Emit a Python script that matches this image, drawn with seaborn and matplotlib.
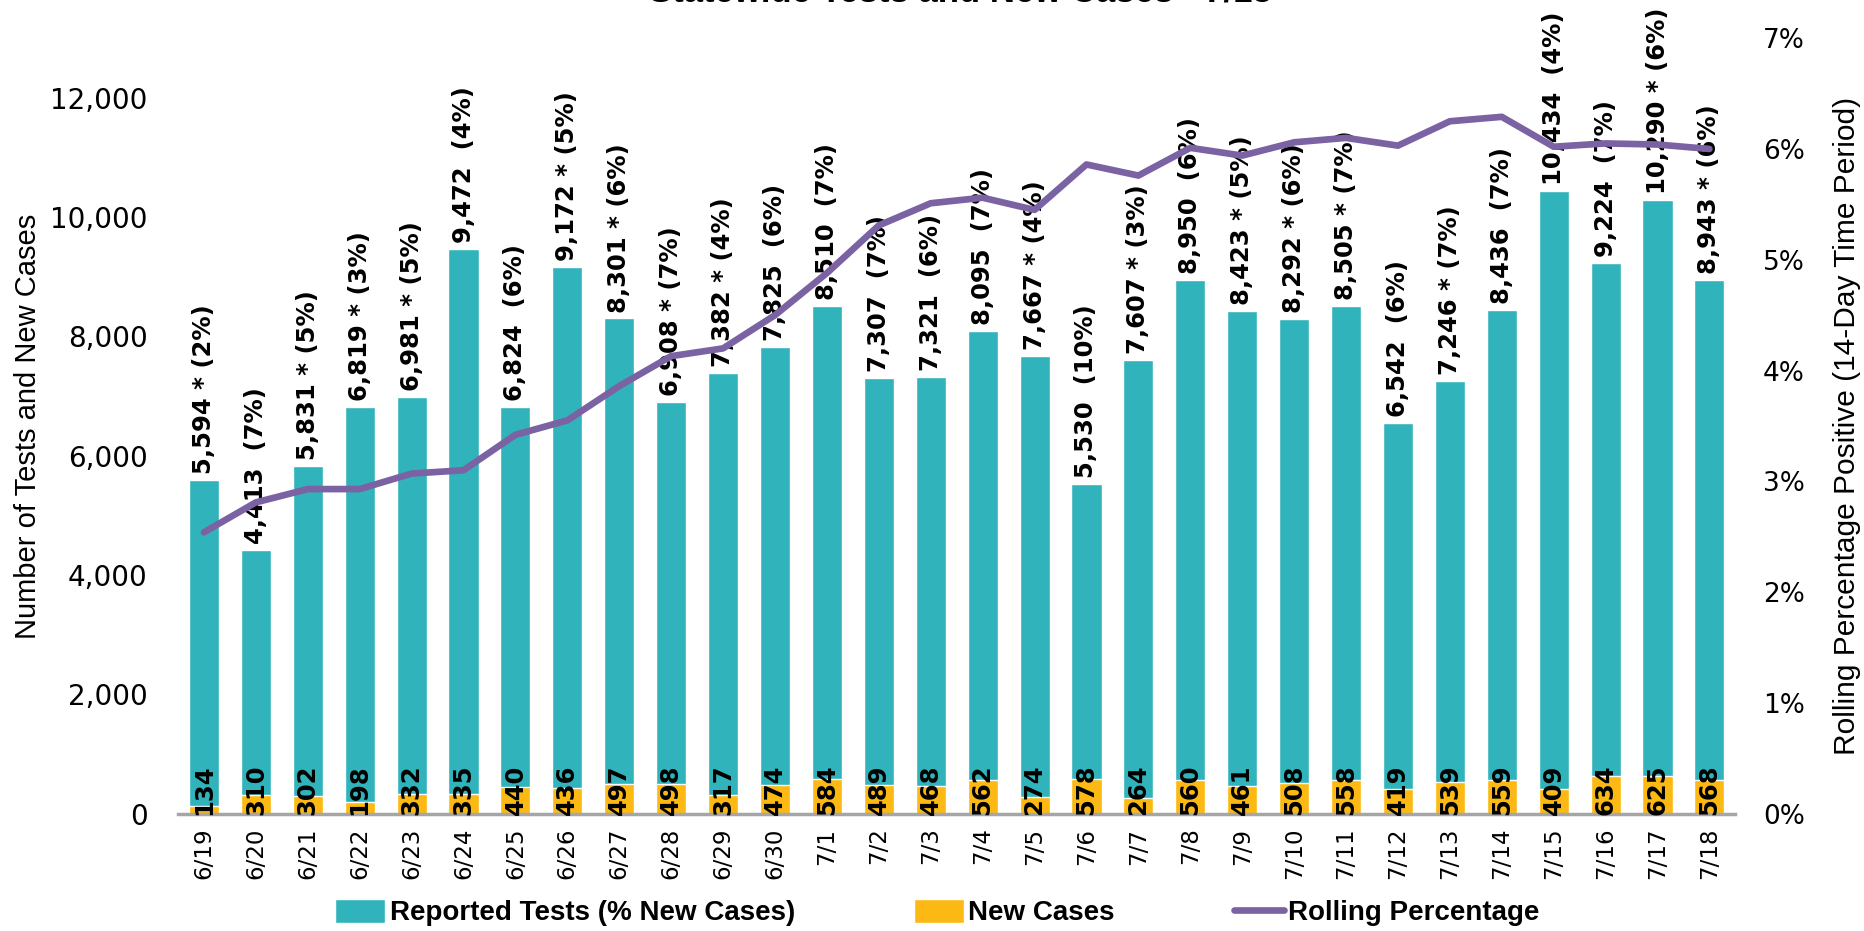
import numpy as np
import pandas as pd
import matplotlib
matplotlib.use("Agg")
import matplotlib.pyplot as plt
import seaborn as sns
from matplotlib.patches import Patch
from matplotlib.lines import Line2D
from matplotlib.ticker import FuncFormatter

# data
dates = ['6/19', '6/20', '6/21', '6/22', '6/23', '6/24', '6/25', '6/26', '6/27', '6/28',
         '6/29', '6/30', '7/1', '7/2', '7/3', '7/4', '7/5', '7/6', '7/7', '7/8',
         '7/9', '7/10', '7/11', '7/12', '7/13', '7/14', '7/15', '7/16', '7/17', '7/18']
reported_tests = [5594, 4413, 5831, 6819, 6981, 9472, 6824, 9172, 8301, 6908,
                  7382, 7825, 8510, 7307, 7321, 8095, 7667, 5530, 7607, 8950,
                  8423, 8292, 8505, 6542, 7246, 8436, 10434, 9224, 10290, 8943]
new_cases = [134, 310, 302, 198, 332, 335, 440, 436, 497, 498,
             317, 474, 584, 489, 468, 562, 274, 578, 264, 560,
             461, 508, 558, 419, 539, 559, 409, 634, 625, 568]
pct_new_cases = [2, 7, 5, 3, 5, 4, 6, 5, 6, 7,
                 4, 6, 7, 7, 6, 7, 4, 10, 3, 6,
                 5, 6, 7, 6, 7, 7, 4, 7, 6, 6]
flagged = [1, 0, 1, 1, 1, 0, 0, 1, 1, 1,
           1, 0, 0, 0, 0, 0, 1, 0, 1, 0,
           1, 1, 1, 0, 1, 0, 0, 0, 1, 1]
rolling_pct = [2.54, 2.81, 2.93, 2.93, 3.07, 3.10, 3.42, 3.55, 3.86, 4.13,
               4.20, 4.50, 4.88, 5.31, 5.51, 5.56, 5.45, 5.86, 5.76, 6.01,
               5.94, 6.06, 6.10, 6.03, 6.25, 6.29, 6.02, 6.05, 6.04, 6.00]

TEAL = '#31B3BB'
GOLD = '#FDB913'
PURPLE = '#7B62A3'
NARROW = ['Liberation Sans', 'DejaVu Sans']

sns.set_theme(style="white")
plt.rcParams['font.family'] = ['DejaVu Sans']
plt.rcParams['text.color'] = 'black'
plt.rcParams['xtick.color'] = 'black'
plt.rcParams['ytick.color'] = 'black'
plt.rcParams['axes.labelcolor'] = 'black'

fig = plt.figure(figsize=(18.64, 9.31), dpi=100)
ax = fig.add_axes([0.0955, 0.126, 0.8355, 0.833])

df = pd.DataFrame({'date': dates, 'tests': reported_tests, 'cases': new_cases})
sns.barplot(data=df, x='date', y='tests', color=TEAL, width=0.58, saturation=1, ax=ax)
sns.barplot(data=df, x='date', y='cases', color=GOLD, width=0.58, saturation=1, ax=ax)

for i, (t, c, f, p) in enumerate(zip(reported_tests, new_cases, flagged, pct_new_cases)):
    label = f"{t:,} * ({p}%)" if f else f"{t:,}  ({p}%)"
    ax.text(i, t + 100, label, rotation=90, ha='center', va='bottom',
            fontsize=17.5, fontweight='bold', color='black')
    ax.text(i, -20, str(c), rotation=90, ha='center', va='bottom',
            fontsize=17.5, fontweight='bold', color='black')

ax.set_ylim(0, 13000)
ax.set_yticks(range(0, 12001, 2000))
ax.yaxis.set_major_formatter(FuncFormatter(lambda v, _: f"{v:,.0f}"))
ax.set_xlabel('')
ax.set_ylabel('Number of Tests and New Cases', fontsize=21, family=NARROW, labelpad=6)
ax.tick_params(axis='y', labelsize=20, length=0, pad=22)
ax.tick_params(axis='x', labelsize=16.5, length=0, rotation=90, pad=10)
for s in ['top', 'left', 'right']:
    ax.spines[s].set_visible(False)
ax.spines['bottom'].set_color('#A6A6A6')
ax.spines['bottom'].set_linewidth(2.5)

ax2 = ax.twinx()
sns.lineplot(x=np.arange(len(dates)), y=rolling_pct, ax=ax2, color=PURPLE, linewidth=4.8)
ax2.set_ylim(0, 7)
ax2.set_yticks(range(0, 8))
ax2.yaxis.set_major_formatter(FuncFormatter(lambda v, _: f"{v:.0f}%"))
ax2.tick_params(axis='y', labelsize=19, length=0, pad=20)
ax2.set_ylabel('Rolling Percentage Positive (14-Day Time Period)', fontsize=21.5,
               family=NARROW, labelpad=20)
for s in ax2.spines.values():
    s.set_visible(False)
ax.set_xlim(-0.5, len(dates) - 0.5)

fig.text(0.515, 0.991, 'Statewide Tests and New Cases - 7/18', ha='center', va='bottom',
         fontsize=25, fontweight='bold', family=NARROW)

handles = [Patch(facecolor=TEAL), Patch(facecolor=GOLD), Line2D([0], [0], color=PURPLE, lw=4.8)]
labels = ['Reported Tests (% New Cases)', 'New Cases', 'Rolling Percentage']
fig.legend(handles, labels, loc='lower center', ncol=3, bbox_to_anchor=(0.503, -0.022),
           frameon=False, prop={'family': NARROW, 'size': 20, 'weight': 'bold'},
           handlelength=1.8, handleheight=1.0, columnspacing=4.3, handletextpad=0.15)

fig.savefig('out.png', dpi=100)
